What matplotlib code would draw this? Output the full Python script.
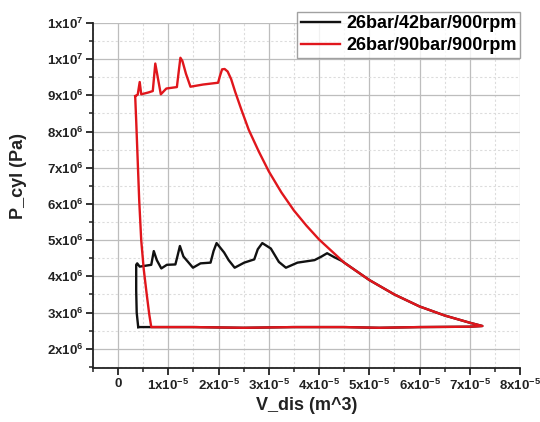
import numpy as np
import matplotlib
matplotlib.use("Agg")
import matplotlib.pyplot as plt
from matplotlib.ticker import FixedLocator, FixedFormatter

plt.rcParams["font.family"] = ["Liberation Sans", "DejaVu Sans"]
plt.rcParams["font.weight"] = "bold"
plt.rcParams["mathtext.fontset"] = "custom"
plt.rcParams["mathtext.rm"] = "Liberation Sans:bold"
plt.rcParams["mathtext.bf"] = "Liberation Sans:bold"
plt.rcParams["mathtext.it"] = "Liberation Sans:bold"
plt.rcParams["mathtext.default"] = "bf"

# p-V loop, 26 bar suction / 42 bar discharge (V in 1e-5 m^3, P in 1e6 Pa)
black_v = [0.40, 1.5, 2.5, 3.5, 4.5, 5.2, 6.0, 7.0, 7.25,
           7.0, 6.5, 6.0, 5.5, 5.0, 4.45,
           4.29, 4.16, 4.05, 3.91, 3.57, 3.34, 3.2, 3.04, 2.87, 2.78, 2.71,
           2.51, 2.32, 2.2, 2.11, 1.96, 1.90, 1.84, 1.64, 1.49, 1.30, 1.23,
           1.18, 1.14, 0.97, 0.86, 0.77, 0.71, 0.66, 0.43, 0.38, 0.36,
           0.36, 0.37, 0.40]
black_p = [2.60, 2.60, 2.58, 2.60, 2.60, 2.58, 2.60, 2.61, 2.63,
           2.72, 2.92, 3.17, 3.50, 3.90, 4.43,
           4.54, 4.64, 4.55, 4.45, 4.38, 4.24, 4.40, 4.77, 4.92, 4.75, 4.47,
           4.38, 4.24, 4.45, 4.66, 4.92, 4.70, 4.38, 4.36, 4.24, 4.55, 4.84,
           4.55, 4.33, 4.32, 4.22, 4.45, 4.70, 4.32, 4.27, 4.36, 4.32,
           3.60, 3.00, 2.60]

# p-V loop, 26 bar suction / 90 bar discharge
red_v = [0.34, 0.36, 0.39, 0.42, 0.46, 0.51, 0.57, 0.62, 0.66,
         1.5, 2.5, 3.5, 4.5, 5.2, 6.0, 7.0, 7.25,
         7.0, 6.5, 6.0, 5.5, 5.0, 4.5, 4.0, 3.75, 3.5, 3.25, 3.0, 2.8,
         2.6, 2.45, 2.33, 2.25, 2.18, 2.12, 2.07, 2.03, 1.99,
         1.69, 1.44, 1.35, 1.28, 1.24, 1.21, 1.17, 0.96, 0.85, 0.74, 0.69,
         0.60, 0.46, 0.43, 0.39, 0.34]
red_p = [8.98, 8.30, 7.20, 6.10, 5.00, 4.20, 3.50, 2.95, 2.60,
         2.60, 2.58, 2.60, 2.60, 2.58, 2.60, 2.61, 2.63,
         2.72, 2.92, 3.17, 3.50, 3.90, 4.38, 5.02, 5.40, 5.82, 6.32, 6.90, 7.45,
         8.05, 8.62, 9.10, 9.45, 9.66, 9.73, 9.72, 9.55, 9.35,
         9.30, 9.24, 9.60, 9.95, 10.04, 9.70, 9.23, 9.19, 9.03, 9.88, 9.12,
         9.08, 9.03, 9.37, 9.02, 8.98]

series_labels = ["26bar/42bar/900rpm", "26bar/90bar/900rpm"]

x_ticks = [0, 1, 2, 3, 4, 5, 6, 7, 8]
x_tick_labels = ["0"] + [f"{k}x10$^{{-5}}$" for k in x_ticks[1:]]
y_ticks = [2, 3, 4, 5, 6, 7, 8, 9, 10, 11]
y_tick_labels = [f"{k}x10$^{{6}}$" for k in range(2, 10)] + ["1x10$^{7}$", "1x10$^{7}$"]

fig = plt.figure(figsize=(5.40, 4.22), dpi=100)
ax = fig.add_axes([0.1722, 0.128, 0.7908, 0.8175])

ax.plot(np.array(black_v) * 1e-5, np.array(black_p) * 1e6, color="#111111",
        lw=1.7, label=series_labels[0], zorder=3, solid_joinstyle="round")
ax.plot(np.array(red_v) * 1e-5, np.array(red_p) * 1e6, color="#e0161c",
        lw=1.7, label=series_labels[1], zorder=4, solid_joinstyle="round")

ax.set_xlim(-0.5e-5, 8e-5)
ax.set_ylim(1.47e6, 1.1e7)

ax.xaxis.set_major_locator(FixedLocator(np.array(x_ticks) * 1e-5))
ax.xaxis.set_major_formatter(FixedFormatter(x_tick_labels))
ax.set_xticks(np.arange(-0.5, 8.0, 1.0) * 1e-5, minor=True)
ax.yaxis.set_major_locator(FixedLocator(np.array(y_ticks) * 1e6))
ax.yaxis.set_major_formatter(FixedFormatter(y_tick_labels))
ax.set_yticks(np.arange(1.5, 11.0, 1.0) * 1e6, minor=True)

for s in ("top", "right"):
    ax.spines[s].set_visible(False)
for s in ("left", "bottom"):
    ax.spines[s].set_linewidth(1.3)
    ax.spines[s].set_color("#222222")

ax.tick_params(which="major", direction="out", length=5, width=1.3,
               color="#222222", labelsize=9.5, pad=2)
ax.tick_params(which="minor", direction="out", length=3, width=1.1,
               color="#222222")
for lab in ax.get_xticklabels() + ax.get_yticklabels():
    lab.set_fontweight("bold")
    lab.set_color("#222222")

ax.grid(which="major", color="#bdbdbd", lw=0.9, ls="-", zorder=0)
ax.grid(which="minor", color="#dcdcdc", lw=0.8, ls=(0, (2, 2)), zorder=0)
ax.set_axisbelow(True)

fig.text(0.568, 0.018, "V_dis (m^3)", ha="center", va="bottom",
         fontsize=13, fontweight="bold", color="#222222")
fig.text(0.035, 0.583, "P_cyl (Pa)", ha="center", va="center", rotation=90,
         fontsize=13, fontweight="bold", color="#222222")

leg = fig.legend(loc="upper right", bbox_to_anchor=(0.963, 0.972),
                 prop={"size": 13, "weight": "bold"}, frameon=True,
                 fancybox=False, handlelength=2.2, handletextpad=0.3,
                 borderpad=0.2, labelspacing=0.25, borderaxespad=0)
leg.get_frame().set_edgecolor("#8a8a8a")
leg.get_frame().set_linewidth(1.0)

fig.savefig("out.png", dpi=100)
